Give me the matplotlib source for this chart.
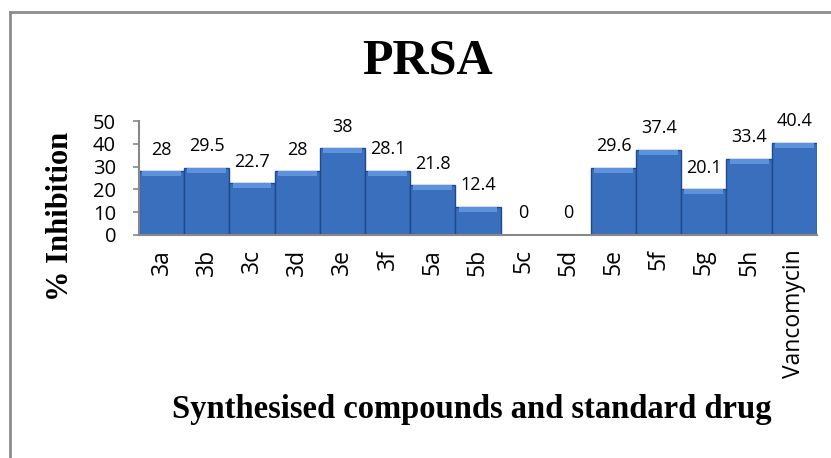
import matplotlib.pyplot as plt
from matplotlib.lines import Line2D

# data
compounds = ['3a', '3b', '3c', '3d', '3e', '3f', '5a', '5b', '5c', '5d',
             '5e', '5f', '5g', '5h', 'Vancomycin']
inhibition = [28, 29.5, 22.7, 28, 38, 28.1, 21.8, 12.4, 0, 0,
              29.6, 37.4, 20.1, 33.4, 40.4]
value_labels = ['28', '29.5', '22.7', '28', '38', '28.1', '21.8', '12.4', '0', '0',
                '29.6', '37.4', '20.1', '33.4', '40.4']
yticks = [0, 10, 20, 30, 40, 50]

# setup
fig = plt.figure(figsize=(8.31, 4.58), dpi=100)
ax = fig.add_axes([0.1673, 0.4869, 0.8157, 0.2489])

x = list(range(len(compounds)))
ax.bar(x, inhibition, width=1.0, color='#3a6fbd', edgecolor='#1f4a8a', linewidth=1.0)

# bevel highlight on bar tops
bevel = 2.2
tops = [max(v - bevel, 0) for v in inhibition]
heights = [min(v, bevel) for v in inhibition]
ax.bar(x, heights, bottom=tops, width=0.86, color='#5d93dc', linewidth=0)

for xi, v, lab in zip(x, inhibition, value_labels):
    ax.annotate(lab, (xi, v), xytext=(0, 9), textcoords='offset points',
                ha='center', va='bottom', fontsize=13, family='Open Sans')

ax.set_xlim(-0.5, len(compounds) - 0.5)
ax.set_ylim(0, 50)
ax.set_yticks(yticks)
ax.set_xticks(x)
ax.set_xticklabels(compounds, rotation=90, fontsize=16.5, family='Open Sans')
ax.set_yticklabels([str(t) for t in yticks], fontsize=14.5, family='Open Sans')
ax.tick_params(axis='x', length=0, pad=10)
ax.tick_params(axis='y', length=4.5, width=1.2, color='#888888', pad=12)

for s in ['top', 'right']:
    ax.spines[s].set_visible(False)
for s in ['left', 'bottom']:
    ax.spines[s].set_color('#888888')
    ax.spines[s].set_linewidth(1.5)

# labels
fig.text(0.515, 0.865, 'PRSA', ha='center', va='center', fontsize=36,
         fontweight='bold', family='Liberation Serif')
fig.text(0.073, 0.528, '% Inhibition', ha='center', va='center', rotation=90,
         fontsize=22, fontweight='bold', family='Liberation Serif')
fig.text(0.568, 0.105, 'Synthesised compounds and standard drug', ha='center',
         va='center', fontsize=23.5, fontweight='bold', family='Liberation Serif')

# outer frame (top and left edges visible)
fig.add_artist(Line2D([10 / 831, 1], [1 - 12 / 458, 1 - 12 / 458],
                      transform=fig.transFigure, color='#8c8c8c', lw=2))
fig.add_artist(Line2D([10 / 831, 10 / 831], [0, 1 - 12 / 458],
                      transform=fig.transFigure, color='#8c8c8c', lw=2))

fig.savefig('out.png', dpi=100)
